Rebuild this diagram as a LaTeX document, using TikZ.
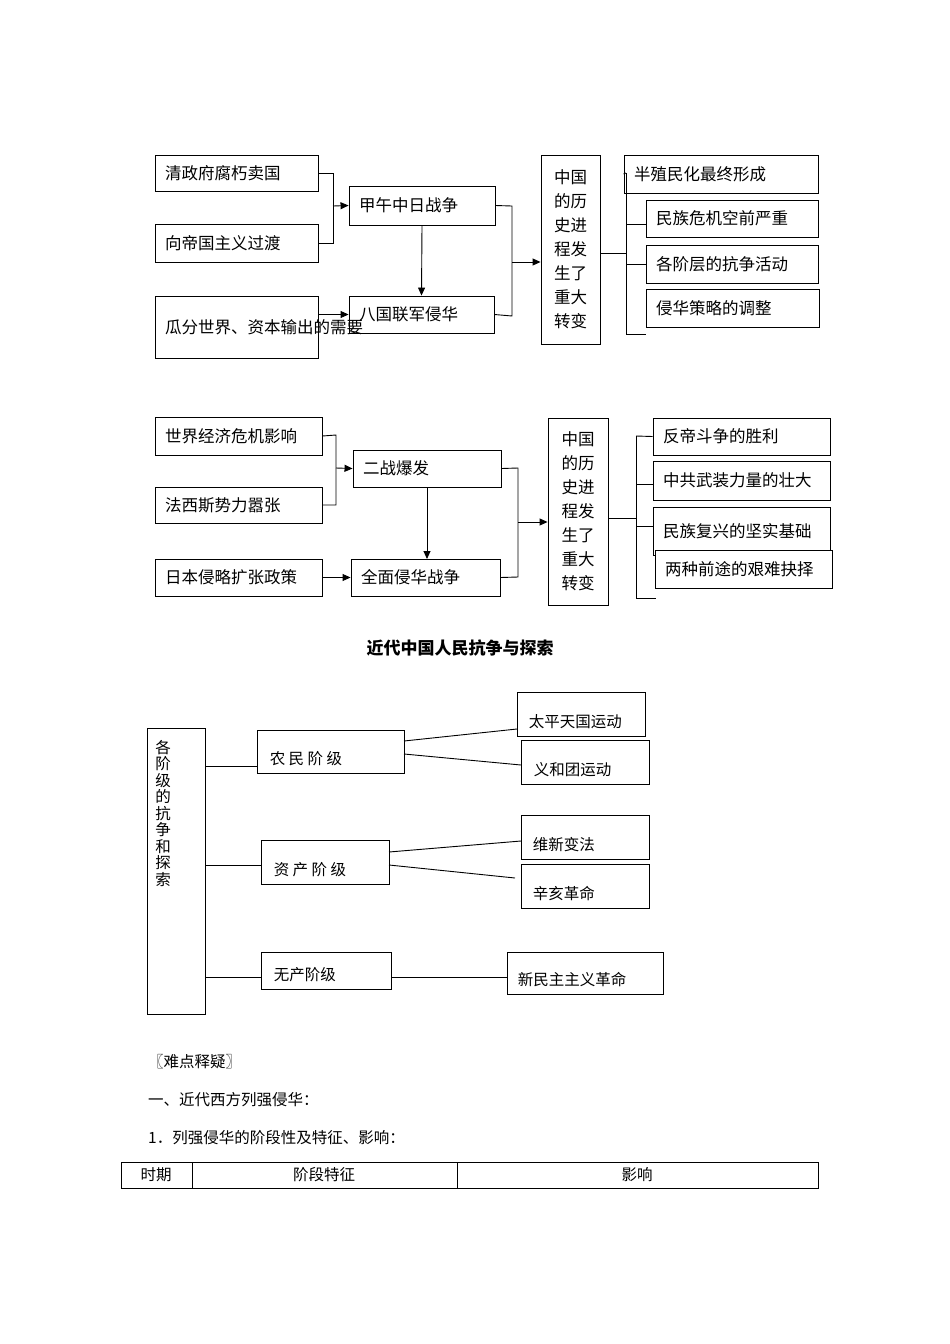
\documentclass[tikz,border=0pt]{standalone}
\usepackage{fontspec}
\setmainfont{Noto Sans CJK SC}
\usetikzlibrary{arrows.meta}
\tikzset{
 box/.style={draw,line width=0.9pt,inner xsep=10pt,inner ysep=0pt,align=left,font=\fontsize{16.5}{24}\selectfont},
 ln/.style={line width=0.9pt},
 arr/.style={line width=0.9pt,-{Triangle[length=8pt,width=7pt]}},
 tx3/.style={font=\fontsize{15.5}{18}\selectfont,anchor=base west,inner sep=0pt},
 plain/.style={font=\fontsize{15.5}{18}\selectfont,anchor=base west,inner sep=0pt},
}
\newcommand\bx[6]{\node[box,minimum height={#5-#3},text width=\dimexpr #4pt-#2pt-20pt\relax] (#1) at ({(#2+#4)/2},{(#3+#5)/2}) {#6};}
\newcommand\bt[7]{\node[box,minimum width={#4-#2},minimum height={#5-#3},inner sep=0pt] (#1) at ({(#2+#4)/2},{(#3+#5)/2}) {};
 \node[tx3] (#1t) at ([xshift=#7pt,yshift=9pt]#1.south west) {#6};}
\begin{document}
\begin{tikzpicture}[x=1pt,y=-1pt]
\useasboundingbox[fill=white] (0,0) rectangle (950,1344);
% ---- diagram 1
\bx{a1}{155}{155}{318}{191}{清政府腐朽卖国}
\bx{a2}{155}{224}{318}{262}{向帝国主义过渡}
\bx{a3}{155}{296}{318}{358}{瓜分世界、资本输出的需要}
\bx{a4}{349}{186}{495}{225}{甲午中日战争}
\bx{a5}{349}{296}{494}{333}{八国联军侵华}
\node[box,minimum width=59,minimum height=189,inner xsep=0pt,align=center] (am) at (570.5,249.5) {中国\\的历\\史进\\程发\\生了\\重大\\转变};
\bx{r1}{624}{155}{818}{193}{半殖民化最终形成}
\bx{r2}{646}{200}{818}{237}{民族危机空前严重}
\bx{r3}{646}{245}{818}{283}{各阶层的抗争活动}
\bx{r4}{646}{289}{819}{327}{侵华策略的调整}
\draw[ln] (a1.east) -- (333,173) -- (333,243) -- (a2.east);
\draw[arr] (333,206) -- (a4.west);
\draw[arr] (a4.south) -- (a5.north);
\draw[arr] (a3.east |- a5.west) -- (a5.west);
\draw[ln] (a4.east) -- (512,206) -- (512,316) -- (a5.east);
\coordinate (c1) at (512,262);
\draw[arr] (c1) -- (c1 -| am.west);
\draw[ln] (am.east |- 0,253) -- (626,253);
\draw[ln] (626,173) -- (626,334) -- (646,334);
\draw[ln] (626,173) -- (r1.west);
\draw[ln] (626,224) -- (646,224);
\draw[ln] (626,264) -- (646,264);
% ---- diagram 2
\bx{b1}{155}{417}{322}{455}{世界经济危机影响}
\bx{b2}{155}{487}{322}{523}{法西斯势力嚣张}
\bx{b3}{155}{559}{322}{596}{日本侵略扩张政策}
\bx{b4}{353}{450}{501}{487}{二战爆发}
\bx{b5}{351}{559}{500}{596}{全面侵华战争}
\node[box,minimum width=60,minimum height=187,inner xsep=0pt,align=center] (bm) at (578,511.5) {中国\\的历\\史进\\程发\\生了\\重大\\转变};
\bx{s1}{653}{418}{830}{455}{反帝斗争的胜利}
\bx{s2}{653}{461}{830}{500}{中共武装力量的壮大}
\bx{s3}{653}{507}{830}{555}{民族复兴的坚实基础}
\node[box,fill=white,minimum height=38,text width=157pt] (s4) at (743.5,569) {两种前途的艰难抉择};
\draw[ln] (b1.east) -- (336,435) -- (336,505) -- (b2.east);
\draw[arr] (336,468) -- (b4.west);
\draw[arr] (427,487) -- (427,559);
\draw[arr] (b3.east) -- (b5.west);
\draw[ln] (b4.east) -- (518,468) -- (518,577) -- (b5.east);
\coordinate (c2) at (518,522);
\draw[arr] (c2) -- (c2 -| bm.west);
\draw[ln] (bm.east |- 0,518) -- (636,518);
\draw[ln] (636,436) -- (636,598) -- (656,598);
\draw[ln] (636,436) -- (s1.west);
\draw[ln] (636,484) -- (653,484);
\draw[ln] (636,526) -- (653,526);
% ---- title
\node[font=\fontsize{17}{20}\selectfont\bfseries] (title) at (460,648) {近代中国人民抗争与探索};
% ---- diagram 3
\node[draw,line width=0.9pt,minimum width=58,minimum height=286] (g0) at (176,871) {};
\node[anchor=north,inner sep=0pt,align=center,font=\fontsize{15.5}{16.5}\selectfont] (g0t) at (163,740) {各\\阶\\级\\的\\抗\\争\\和\\探\\索};
\bt{g1}{257}{730}{404}{773}{农 民 阶 级}{13}
\bt{g2}{261}{840}{389}{884}{资 产 阶 级}{13}
\bt{g3}{261}{952}{391}{989}{无产阶级}{13}
\bt{h1}{517}{692}{645}{736}{太平天国运动}{12}
\bt{h2}{521}{740}{649}{784}{义和团运动}{13}
\bt{h3}{521}{815}{649}{859}{维新变法}{12}
\bt{h4}{521}{864}{649}{908}{辛亥革命}{12}
\bt{h5}{507}{952}{663}{994}{新民主主义革命}{11}
\draw[ln] (g0.east |- g1.west) -- ++(0,0) (205,766) -- (257,766);
\draw[ln] (205,865) -- (261,865);
\draw[ln] (205,977) -- (261,977);
\draw[ln] (404,741) -- (517,729);
\draw[ln] (404,754) -- (521,765);
\draw[ln] (389,852) -- (521,841);
\draw[ln] (389,865) -- (515,878);
\draw[ln] (391,977) -- (507,977);
% ---- text below
\node[plain] (p1) at (148,1067) {〖难点释疑〗};
\node[plain] (p2) at (148,1105) {一、近代西方列强侵华：};
\node[plain] (p3) at (148,1143) {1．列强侵华的阶段性及特征、影响：};
\draw[line width=0.8pt] (121,1162) rectangle (818,1188) (192,1162) -- (192,1188) (457,1162) -- (457,1188);
\node[font=\fontsize{15.5}{18}\selectfont] (t1) at (156,1175) {时期};
\node[font=\fontsize{15.5}{18}\selectfont] (t2) at (324,1175) {阶段特征};
\node[font=\fontsize{15.5}{18}\selectfont] (t3) at (637,1175) {影响};
\end{tikzpicture}
\end{document}
